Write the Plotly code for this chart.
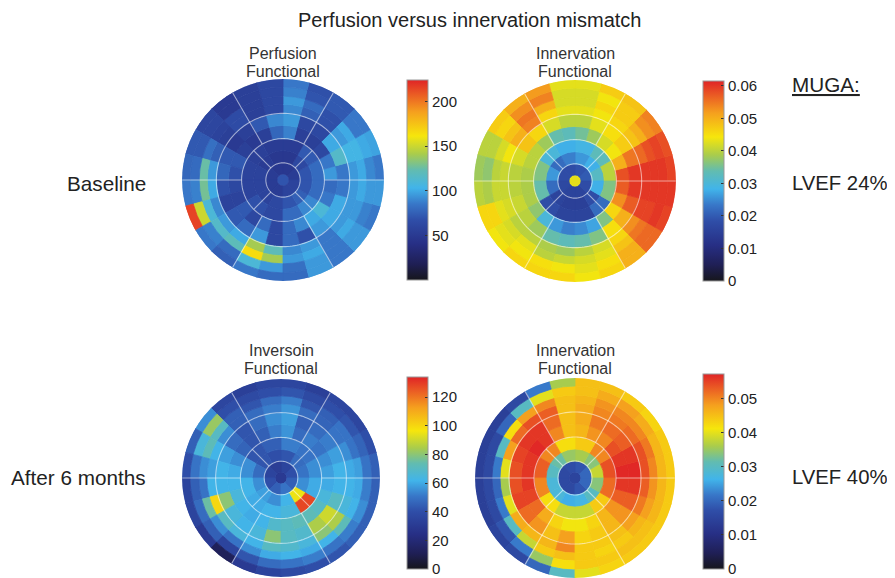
import numpy as np
import plotly.graph_objects as go
from plotly.colors import sample_colorscale

# the page body has an 8px margin: the figure is sized/positioned to compensate
OFF = 8
W, H = 895 - OFF, 578 - OFF
FONT = "Liberation Sans, Arial, sans-serif"


def px(x):
    return (x - OFF) / W


def py(y):
    return 1 - (y - OFF) / H


# radial ring boundaries of the bullseye (normalised radius)
ring_edges = [0.0, 0.06, 0.17, 0.29, 0.41, 0.54, 0.66, 0.75, 0.83, 0.92, 1.0]

# ---- data: each list = one ring (inner -> outer), sectors counter-clockwise from east
perf_base = [
    [70],
    [52, 48, 48, 52, 52, 52, 58, 58],
    [70, 62, 48, 48, 52, 58, 58, 58, 62, 70, 75, 70],
    [80, 72, 52, 52, 55, 58, 58, 68, 62, 80, 90, 80],
    [95, 85, 62, 55, 55, 88, 78, 55, 50, 55, 72, 68, 62, 58, 72, 62, 80, 62, 80, 90, 100, 110, 85, 80],
    [85, 115, 100, 62, 62, 95, 90, 72, 55, 50, 72, 78, 68, 58, 72, 80, 95, 62, 80, 68, 95, 100, 100, 85],
    [95, 105, 95, 68, 75, 90, 62, 55, 65, 55, 75, 95, 100, 90, 95, 100, 140, 120, 90, 95, 85, 95, 95, 95],
    [100, 105, 100, 68, 80, 95, 62, 55, 65, 58, 82, 125, 128, 110, 115, 120, 165, 140, 95, 100, 85, 100, 95, 100],
    [90, 100, 85, 72, 70, 88, 62, 55, 50, 60, 72, 80, 88, 150, 88, 80, 110, 95, 82, 95, 85, 95, 88, 95],
    [85, 98, 85, 72, 68, 85, 62, 55, 50, 60, 72, 78, 85, 215, 85, 75, 85, 80, 80, 95, 85, 95, 85, 95],
]

innerv_base = [
    [0.043],
    [0.020, 0.019, 0.018, 0.018, 0.017, 0.016, 0.016, 0.018],
    [0.032, 0.028, 0.026, 0.024, 0.022, 0.026, 0.022, 0.016, 0.015, 0.015, 0.018, 0.028],
    [0.040, 0.033, 0.029, 0.028, 0.030, 0.036, 0.034, 0.018, 0.016, 0.016, 0.022, 0.036],
    [0.058, 0.050, 0.044, 0.042, 0.038, 0.035, 0.033, 0.034, 0.038, 0.040, 0.040, 0.039,
     0.039, 0.039, 0.037, 0.030, 0.026, 0.024, 0.025, 0.027, 0.036, 0.046, 0.053, 0.057],
    [0.060, 0.055, 0.047, 0.045, 0.043, 0.040, 0.040, 0.042, 0.046, 0.048, 0.042, 0.040,
     0.040, 0.041, 0.040, 0.038, 0.034, 0.033, 0.034, 0.036, 0.045, 0.050, 0.057, 0.060],
    [0.060, 0.056, 0.048, 0.046, 0.044, 0.043, 0.043, 0.046, 0.054, 0.050, 0.044, 0.041,
     0.041, 0.042, 0.040, 0.040, 0.039, 0.038, 0.040, 0.042, 0.046, 0.053, 0.059, 0.060],
    [0.060, 0.058, 0.050, 0.047, 0.046, 0.042, 0.042, 0.050, 0.055, 0.048, 0.042, 0.040,
     0.041, 0.043, 0.042, 0.043, 0.040, 0.041, 0.042, 0.043, 0.048, 0.055, 0.059, 0.060],
    [0.060, 0.059, 0.053, 0.047, 0.044, 0.042, 0.042, 0.054, 0.053, 0.046, 0.040, 0.037,
     0.039, 0.046, 0.043, 0.044, 0.045, 0.044, 0.043, 0.045, 0.050, 0.056, 0.060, 0.060],
    [0.059, 0.058, 0.054, 0.048, 0.047, 0.043, 0.043, 0.052, 0.050, 0.047, 0.040, 0.038,
     0.040, 0.046, 0.044, 0.046, 0.046, 0.046, 0.044, 0.046, 0.050, 0.056, 0.059, 0.060],
]

inv_6m = [
    [30],
    [40, 35, 32, 35, 40, 45, 50, 45],
    [50, 48, 42, 40, 42, 48, 55, 58, 55, 62, 95, 55],
    [55, 50, 52, 45, 42, 55, 62, 60, 62, 65, 128, 60],
    [58, 55, 50, 52, 48, 56, 52, 45, 42, 46, 55, 60, 62, 65, 62, 60, 62, 68, 70, 72, 72, 70, 65, 60],
    [62, 58, 52, 48, 45, 58, 55, 48, 42, 48, 58, 62, 62, 80, 65, 62, 65, 80, 70, 68, 85, 90, 70, 62],
    [60, 55, 50, 46, 48, 56, 52, 48, 45, 55, 62, 58, 62, 100, 70, 65, 62, 70, 68, 65, 80, 85, 65, 62],
    [58, 50, 50, 45, 42, 52, 48, 42, 45, 70, 72, 55, 50, 75, 55, 50, 55, 60, 62, 60, 62, 72, 62, 60],
    [50, 46, 42, 40, 38, 42, 40, 38, 40, 82, 65, 50, 45, 48, 45, 35, 42, 48, 50, 52, 50, 52, 55, 52],
    [45, 40, 36, 36, 33, 36, 36, 33, 36, 55, 45, 40, 35, 35, 30, 12, 30, 35, 38, 40, 42, 45, 45, 45],
]

innerv_6m = [
    [0.015],
    [0.020, 0.018, 0.017, 0.016, 0.016, 0.016, 0.018, 0.020],
    [0.038, 0.034, 0.036, 0.035, 0.032, 0.030, 0.028, 0.028, 0.026, 0.027, 0.030, 0.034],
    [0.054, 0.050, 0.044, 0.042, 0.050, 0.053, 0.050, 0.042, 0.038, 0.038, 0.044, 0.052],
    [0.057, 0.056, 0.054, 0.050, 0.049, 0.046, 0.045, 0.050, 0.056, 0.057, 0.056, 0.056,
     0.056, 0.055, 0.052, 0.047, 0.043, 0.041, 0.041, 0.043, 0.046, 0.049, 0.053, 0.056],
    [0.057, 0.056, 0.053, 0.052, 0.051, 0.047, 0.045, 0.052, 0.056, 0.056, 0.055, 0.054,
     0.054, 0.055, 0.052, 0.049, 0.045, 0.048, 0.043, 0.044, 0.046, 0.049, 0.053, 0.056],
    [0.054, 0.054, 0.052, 0.051, 0.050, 0.047, 0.045, 0.053, 0.054, 0.052, 0.048, 0.040,
     0.036, 0.040, 0.047, 0.046, 0.046, 0.050, 0.044, 0.044, 0.045, 0.048, 0.051, 0.053],
    [0.050, 0.051, 0.050, 0.050, 0.049, 0.046, 0.045, 0.050, 0.048, 0.042, 0.030, 0.022,
     0.020, 0.022, 0.030, 0.038, 0.044, 0.045, 0.044, 0.043, 0.044, 0.046, 0.048, 0.049],
    [0.046, 0.046, 0.047, 0.048, 0.047, 0.045, 0.044, 0.040, 0.030, 0.020, 0.016, 0.016,
     0.016, 0.016, 0.018, 0.022, 0.035, 0.042, 0.044, 0.044, 0.045, 0.045, 0.046, 0.046],
    [0.044, 0.044, 0.043, 0.044, 0.045, 0.045, 0.036, 0.022, 0.016, 0.014, 0.014, 0.014,
     0.014, 0.014, 0.015, 0.016, 0.020, 0.030, 0.040, 0.043, 0.044, 0.044, 0.044, 0.044],
]

panel_titles = [("Perfusion", "Functional"), ("Innervation", "Functional"),
                ("Inversoin", "Functional"), ("Innervation", "Functional")]
row_labels = ["Baseline", "After 6 months"]
lvef_labels = ["LVEF 24%", "LVEF 40%"]
cb_ranges = [(0, 224), (0, 0.0615), (0, 134), (0, 0.0573)]
cb_ticks = [[50, 100, 150, 200],
            [0, 0.01, 0.02, 0.03, 0.04, 0.05, 0.06],
            [0, 20, 40, 60, 80, 100, 120],
            [0, 0.01, 0.02, 0.03, 0.04, 0.05]]
cb_ticktext = [["50", "100", "150", "200"],
               ["0", "0.01", "0.02", "0.03", "0.04", "0.05", "0.06"],
               ["0", "20", "40", "60", "80", "100", "120"],
               ["0", "0.01", "0.02", "0.03", "0.04", "0.05"]]

jet = [
    [0.00, "rgb(22,22,28)"],
    [0.08, "rgb(31,31,85)"],
    [0.18, "rgb(39,47,133)"],
    [0.30, "rgb(47,78,168)"],
    [0.38, "rgb(56,119,200)"],
    [0.46, "rgb(65,180,234)"],
    [0.55, "rgb(98,188,176)"],
    [0.63, "rgb(169,204,76)"],
    [0.72, "rgb(246,230,12)"],
    [0.84, "rgb(245,160,30)"],
    [0.93, "rgb(234,90,36)"],
    [1.00, "rgb(224,36,38)"],
]

datasets = [perf_base, innerv_base, inv_6m, innerv_6m]
# reference-pixel geometry: (cx, cy, R) of each bullseye; colourbar (x_left, y_top, y_bottom)
geo = [(283, 180, 101), (575, 181, 101), (281, 478, 99), (575, 478, 100)]
cbgeo = [(407, 80, 280), (703, 81, 281), (407, 377, 569), (703, 374, 569)]
title_y = [(53, 71), (53, 71), (350, 368), (350, 368)]

fig = go.Figure()


def bars(rings, cmin, cmax, cax, subplot):
    th, wd, base, rr, val = [], [], [], [], []
    for i, ring in enumerate(rings):
        n = len(ring)
        for j, v in enumerate(ring):
            th.append((j + 0.5) * 360.0 / n)
            wd.append(360.0 / n)
            base.append(ring_edges[i])
            rr.append(ring_edges[i + 1] - ring_edges[i])
            val.append(v)
    fr = [min(1, max(0, (v - cmin) / (cmax - cmin))) for v in val]
    cols = sample_colorscale(jet, fr)
    return go.Barpolar(theta=th, r=rr, base=base, width=wd,
                       marker=dict(color=val, coloraxis=cax,
                                   line=dict(color=cols, width=0.8)),
                       subplot=subplot, hoverinfo="skip", showlegend=False)


def grid(subplot):
    th, r = [], []
    circ = list(np.linspace(0, 360, 181))
    for rad in (0.17, 0.41, 0.66):
        th += circ + [None]
        r += [rad] * 181 + [None]
    for a in range(0, 360, 60):
        th += [a, a, None]
        r += [0.41, 1.0, None]
    for a in (45, 135, 225, 315):
        th += [a, a, None]
        r += [0.17, 0.41, None]
    return go.Scatterpolar(theta=th, r=r, mode="lines", subplot=subplot,
                           line=dict(color="rgba(255,255,255,0.55)", width=1.1),
                           hoverinfo="skip", showlegend=False)


layout = dict(width=W, height=H, margin=dict(l=0, r=0, t=0, b=0),
              paper_bgcolor="white", plot_bgcolor="white",
              font=dict(family=FONT, color="#222"))
annotations = []


def label(text, x, y, size, xanchor="center", color="#222"):
    annotations.append(dict(text=text, x=px(x), y=py(y), xref="paper", yref="paper",
                            showarrow=False, xanchor=xanchor, yanchor="middle",
                            font=dict(size=size, color=color, family=FONT)))


for k, data in enumerate(datasets):
    sp = "polar" if k == 0 else f"polar{k+1}"
    cax = "coloraxis" if k == 0 else f"coloraxis{k+1}"
    cmin, cmax = cb_ranges[k]
    fig.add_trace(bars(data, cmin, cmax, cax, sp))
    fig.add_trace(grid(sp))
    cx, cy, R = geo[k]
    layout[sp] = dict(
        domain=dict(x=[px(cx - R), px(cx + R)], y=[py(cy + R), py(cy - R)]),
        radialaxis=dict(range=[0, 1], visible=False),
        angularaxis=dict(visible=False, rotation=0, direction="counterclockwise"),
        bgcolor="rgba(0,0,0,0)", bargap=0)
    xl, yt, yb = cbgeo[k]
    layout[cax] = dict(
        colorscale=jet, cmin=cmin, cmax=cmax,
        colorbar=dict(x=px(xl), xanchor="left", xpad=0, ypad=0,
                      y=py((yt + yb) / 2), yanchor="middle",
                      len=yb - yt, lenmode="pixels", thickness=21,
                      outlinewidth=1, outlinecolor="#999",
                      tickvals=cb_ticks[k], ticktext=cb_ticktext[k],
                      ticks="inside", ticklen=3, tickcolor="#333",
                      ticklabeloverflow="allow",
                      tickfont=dict(size=15, color="#222", family=FONT)))
    t1, t2 = panel_titles[k]
    label(t1, cx, title_y[k][0], 16, color="#333")
    label(t2, cx, title_y[k][1], 16, color="#333")

label("Perfusion versus innervation mismatch", 469, 20, 20)
for i, (lab, lv) in enumerate(zip(row_labels, lvef_labels)):
    yy = [183, 477][i]
    label(lab, 148, yy, 20.7, xanchor="right")
    label(lv, 790, yy, 20.3, xanchor="left")
label("<u>MUGA:</u>", 790, 85, 20.7, xanchor="left")

layout["annotations"] = annotations
fig.update_layout(**layout)
fig.write_html("out.html")
